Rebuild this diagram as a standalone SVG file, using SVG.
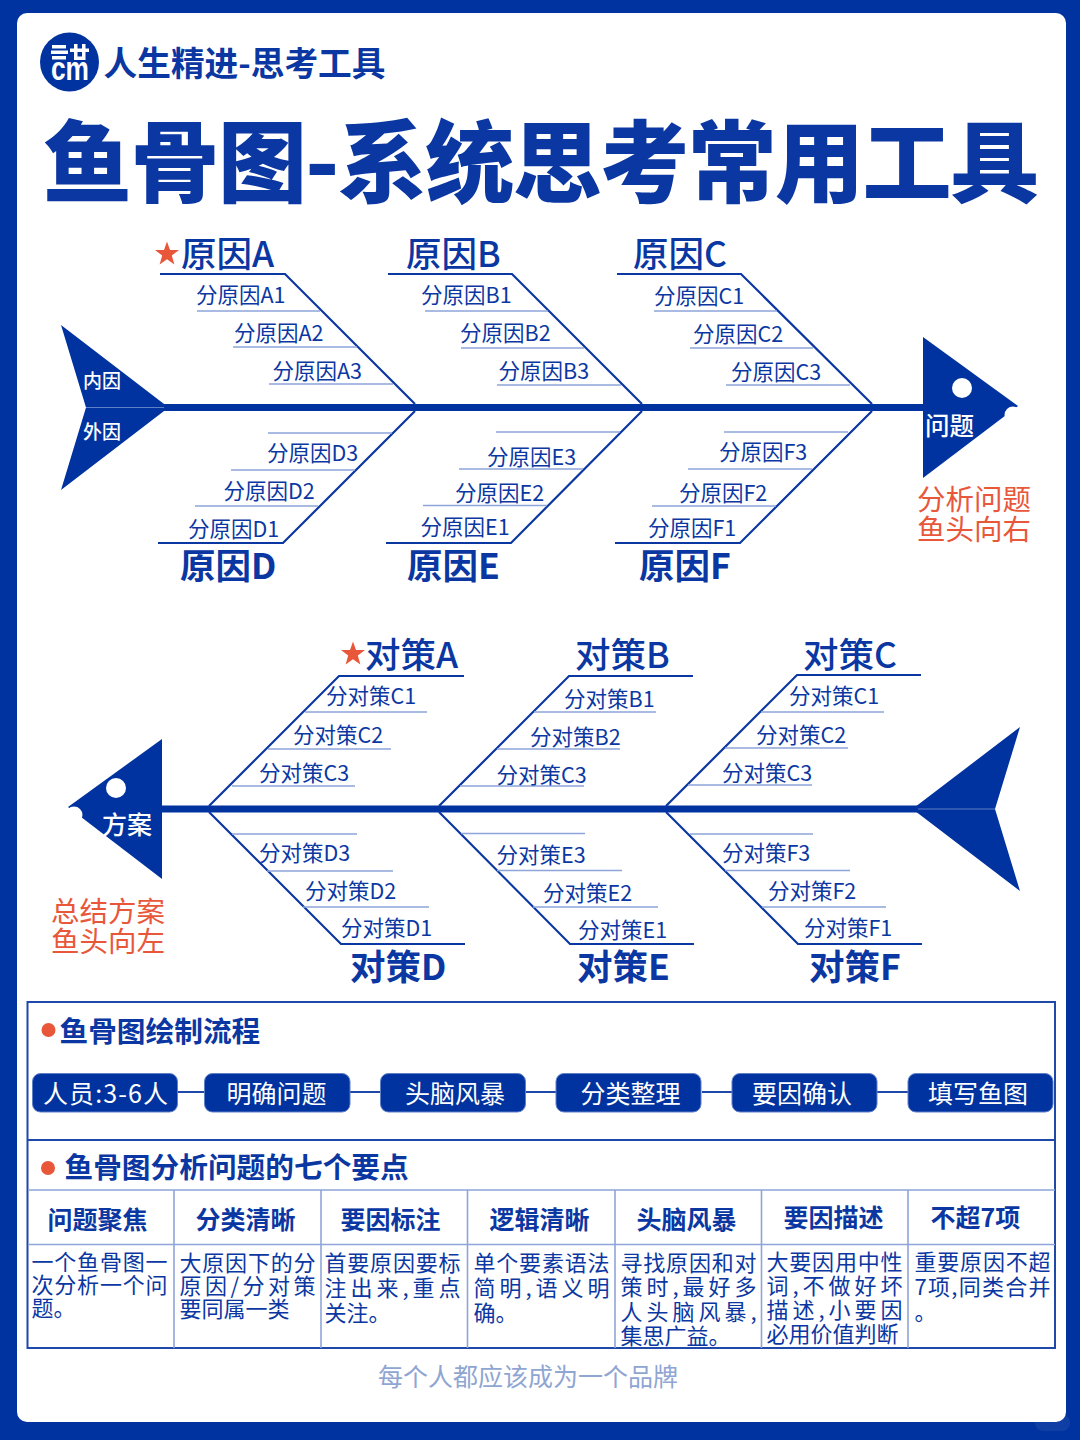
<svg xmlns="http://www.w3.org/2000/svg" width="1080" height="1440" viewBox="0 0 1080 1440">
<style>
text{font-family:"Noto Sans CJK SC","Noto Sans",sans-serif;fill:#0b37a2}
.big{font-size:35.500px;font-weight:500}
.bigb{font-size:35.500px;font-weight:700}
.sub{font-size:21.500px;font-weight:400}
.w{fill:#fff}
.red{fill:#e8573a;font-size:28.500px;font-weight:400}
.h2{font-size:28.700px;font-weight:700}
.pill{fill:#fff;font-size:25px;font-weight:400}
.th{font-size:25px;font-weight:700}
.td{font-size:22px;font-weight:400}
.bone{stroke:#0b37a2;stroke-width:2.2;fill:none}
.rib{stroke:#8fa5da;stroke-width:1.6;fill:none}
.spine{stroke:#0033a0;stroke-width:7;fill:none}
.fill{fill:#0033a0}
.seam{stroke:#5f7fc6;stroke-width:1}
.box{stroke:#1f49a8;stroke-width:2;fill:none}
.grid{stroke:#8fa5da;stroke-width:1.6;fill:none}
.dot{fill:#e8573a}
.pbox{fill:#0033a0;stroke:#5f7fc6;stroke-width:1}
</style>
<defs><polygon id="star" points="0,-12.500 3,-4 12,-4 4.800,1.600 7.400,10.500 0,5.200 -7.400,10.500 -4.800,1.600 -12,-4 -3,-4" fill="#e8573a"/></defs>
<rect width="1080" height="1440" fill="#0033a0"/>
<rect x="17" y="13" width="1049" height="1409" rx="10" fill="#fff"/>
<rect x="1035" y="1415" width="35" height="16" rx="8" fill="#fff" opacity=".06"/>

<g id="logo">
<circle cx="69.500" cy="62" r="29.500" class="fill"/>
<g fill="#fff">
<rect x="52" y="45" width="14" height="3.500"/><rect x="51" y="50.500" width="17" height="3.500"/><rect x="52" y="56" width="14" height="3.500"/>
<rect x="70" y="48.500" width="19" height="3.500"/><rect x="74" y="44" width="3.500" height="16"/><rect x="82" y="44" width="3.500" height="16"/><rect x="74" y="56.500" width="11" height="3.500"/>
</g>
<text x="51" y="80" font-size="33" font-weight="700" textLength="38" lengthAdjust="spacingAndGlyphs" class="w" style="font-family:'Liberation Sans',sans-serif">cm</text>
</g>
<text id="brand" x="103.500" y="76" font-size="33.700" font-weight="700">人生精进-思考工具</text>
<text id="title" x="43" y="195" font-size="89" font-weight="900" textLength="996" lengthAdjust="spacing">鱼骨图-系统思考常用工具</text>

<g id="connectors">
<path class="spine" d="M164 407.500H925"/>
<path class="spine" d="M162 809H920"/>
<path class="bone" d="M160 274H285L415 404M388 274H512L642 404M617 274H741L872 404"/>
<path class="bone" d="M415 411L283 543H158M642 411L511 543H386M872 411L740 543H615"/>
<path class="bone" d="M209 806L339 676H464M439 806L569 676H693M666 806L797 675H921"/>
<path class="bone" d="M209 812L341 944H465M439 812L570 944H694M666 812L798 944H922"/>
<path class="rib" d="M197 311H320M233 347H357M269 384H393M425 311H548M461 348H584M497 385H621M654 311H777M690 348H813M726 385H850"/>
<path class="rib" d="M268 433H392M231 470H355M195 506H318M496 432H620M459 469H583M423 505.500H547M724 432H848M688 469H812M652 506H776"/>
<path class="rib" d="M305 712H427M268 749H391M232 786H355M534 712H656M497 749H620M460 786H584M761 712H884M725 748H848M688 785H812"/>
<path class="rib" d="M232 834H357M267 871H393M303 907H429M461 833.500H585M497 870.500H622M533 907H658M690 834H813M725 870.500H850M762 907H886"/>
</g>

<g id="fish1-tail"><polygon class="fill" points="61,325 168.600,407.500 61,490 86,407.500"/><line class="seam" x1="86" y1="407.500" x2="164" y2="407.500"/>
<text x="83" y="388" font-size="19" class="w" font-weight="500">内因</text><text x="83" y="439" font-size="19" class="w" font-weight="500">外因</text></g>
<g id="fish1-head"><polygon class="fill" points="923,337 1018,406 923,478"/><circle cx="962" cy="388" r="10" fill="#fff"/><circle cx="1013" cy="415" r="8.500" fill="#fff"/>
<text x="925" y="435" font-size="24.500" class="w" font-weight="500">问题</text>
<text x="917" y="510" class="red">分析问题</text><text x="917" y="540" class="red">鱼头向右</text></g>

<g id="cause-A"><use href="#star" x="167" y="254"/><text x="181" y="267" class="big">原因A</text><text x="196" y="303" class="sub">分原因A1</text><text x="234" y="341" class="sub">分原因A2</text><text x="272.500" y="379" class="sub">分原因A3</text></g>
<g id="cause-B"><text x="406" y="267" class="big">原因B</text><text x="421" y="303" class="sub">分原因B1</text><text x="460" y="341" class="sub">分原因B2</text><text x="498.500" y="379" class="sub">分原因B3</text></g>
<g id="cause-C"><text x="633" y="267" class="big">原因C</text><text x="654" y="304" class="sub">分原因C1</text><text x="693" y="342" class="sub">分原因C2</text><text x="731" y="380" class="sub">分原因C3</text></g>
<g id="cause-D"><text x="267" y="461" class="sub">分原因D3</text><text x="223.500" y="499" class="sub">分原因D2</text><text x="188" y="537" class="sub">分原因D1</text><text x="180" y="579" class="bigb">原因D</text></g>
<g id="cause-E"><text x="487" y="465" class="sub">分原因E3</text><text x="455" y="501" class="sub">分原因E2</text><text x="420.500" y="535" class="sub">分原因E1</text><text x="407" y="579" class="bigb">原因E</text></g>
<g id="cause-F"><text x="719" y="460" class="sub">分原因F3</text><text x="679" y="501" class="sub">分原因F2</text><text x="648" y="536" class="sub">分原因F1</text><text x="639" y="579" class="bigb">原因F</text></g>

<g id="fish2-head"><polygon class="fill" points="162,739 68,807 162,879"/><circle cx="116" cy="788" r="10" fill="#fff"/><circle cx="74" cy="815" r="8.500" fill="#fff"/>
<text x="102" y="834" font-size="25" class="w" font-weight="500">方案</text>
<text x="51" y="922" class="red">总结方案</text><text x="51" y="952" class="red">鱼头向左</text></g>
<g id="fish2-tail"><polygon class="fill" points="1020,727 912.400,809 1020,891 995,809"/><line class="seam" x1="918" y1="809" x2="995" y2="809"/></g>

<g id="measure-A"><use href="#star" x="353" y="654"/><text x="365" y="668" class="big">对策A</text><text x="326" y="704" class="sub">分对策C1</text><text x="293" y="743" class="sub">分对策C2</text><text x="259" y="781" class="sub">分对策C3</text></g>
<g id="measure-B"><text x="575" y="668" class="big">对策B</text><text x="564" y="707" class="sub">分对策B1</text><text x="530" y="745" class="sub">分对策B2</text><text x="496.500" y="783" class="sub">分对策C3</text></g>
<g id="measure-C"><text x="803" y="668" class="big">对策C</text><text x="789" y="704" class="sub">分对策C1</text><text x="756" y="743" class="sub">分对策C2</text><text x="722" y="781" class="sub">分对策C3</text></g>
<g id="measure-D"><text x="259" y="861" class="sub">分对策D3</text><text x="305" y="899" class="sub">分对策D2</text><text x="341" y="936" class="sub">分对策D1</text><text x="350" y="980" class="bigb">对策D</text></g>
<g id="measure-E"><text x="496.500" y="863" class="sub">分对策E3</text><text x="543" y="901" class="sub">分对策E2</text><text x="578" y="938" class="sub">分对策E1</text><text x="577" y="980" class="bigb">对策E</text></g>
<g id="measure-F"><text x="722" y="861" class="sub">分对策F3</text><text x="768" y="899" class="sub">分对策F2</text><text x="804" y="936" class="sub">分对策F1</text><text x="809" y="980" class="bigb">对策F</text></g>

<g id="panel">
<rect class="box" x="27.500" y="1002" width="1027.500" height="346"/>
<line class="box" x1="27.500" y1="1140" x2="1055" y2="1140"/>
<path class="grid" d="M28 1190H1055M28 1244.500H1055M174 1190V1348M321 1190V1348M467.500 1190V1348M615 1190V1348M761.500 1190V1348M908 1190V1348"/>
</g>

<g id="flow">
<circle class="dot" cx="48.500" cy="1030" r="7"/><text x="59.500" y="1042" class="h2">鱼骨图绘制流程</text>
<path d="M178 1092H205M350 1092H380M526 1092H556M702 1092H732M877 1092H908" stroke="#1f49a8" stroke-width="2" fill="none"/>
<g id="step1"><rect class="pbox" x="32.500" y="1073.500" width="145" height="38.500" rx="8"/><text x="43" y="1103" class="pill" textLength="125">人员:3-6人</text></g>
<g id="step2"><rect class="pbox" x="204.500" y="1073.500" width="145.500" height="38.500" rx="8"/><text x="226.500" y="1103" class="pill">明确问题</text></g>
<g id="step3"><rect class="pbox" x="380.500" y="1073.500" width="145" height="38.500" rx="8"/><text x="405" y="1103" class="pill">头脑风暴</text></g>
<g id="step4"><rect class="pbox" x="556" y="1073.500" width="145" height="38.500" rx="8"/><text x="580.500" y="1103" class="pill">分类整理</text></g>
<g id="step5"><rect class="pbox" x="732" y="1073.500" width="145" height="38.500" rx="8"/><text x="752" y="1103" class="pill">要因确认</text></g>
<g id="step6"><rect class="pbox" x="908" y="1073.500" width="145" height="38.500" rx="8"/><text x="928" y="1103" class="pill">填写鱼图</text></g>
</g>

<g id="points">
<circle class="dot" cx="48" cy="1168" r="7"/><text x="64.500" y="1178" class="h2">鱼骨图分析问题的七个要点</text>
<g id="col1"><text x="47.500" y="1229" class="th">问题聚焦</text><text x="31.500" y="1270" class="td" textLength="136">一个鱼骨图一</text><text x="31.500" y="1293" class="td" textLength="136">次分析一个问</text><text x="31.500" y="1316" class="td">题。</text></g>
<g id="col2"><text x="195.500" y="1229" class="th">分类清晰</text><text x="179.500" y="1271" class="td" textLength="136">大原因下的分</text><text x="179.500" y="1294" class="td" textLength="136">原因/分对策</text><text x="179.500" y="1317" class="td">要同属一类</text></g>
<g id="col3"><text x="340.500" y="1229" class="th">要因标注</text><text x="324.500" y="1271" class="td" textLength="136">首要原因要标</text><text x="324.500" y="1296" class="td" textLength="136">注出来,重点</text><text x="324.500" y="1321" class="td">关注。</text></g>
<g id="col4"><text x="489.500" y="1229" class="th">逻辑清晰</text><text x="473.500" y="1271" class="td" textLength="136">单个要素语法</text><text x="473.500" y="1296" class="td" textLength="136">简明,语义明</text><text x="473.500" y="1321" class="td">确。</text></g>
<g id="col5"><text x="636.500" y="1229" class="th">头脑风暴</text><text x="620.500" y="1271" class="td" textLength="136">寻找原因和对</text><text x="620.500" y="1295" class="td" textLength="136">策时,最好多</text><text x="620.500" y="1320" class="td" textLength="136">人头脑风暴,</text><text x="620.500" y="1344" class="td">集思广益。</text></g>
<g id="col6"><text x="783.500" y="1227" class="th">要因描述</text><text x="766.500" y="1270" class="td" textLength="136">大要因用中性</text><text x="766.500" y="1294" class="td" textLength="136">词,不做好坏</text><text x="766.500" y="1318" class="td" textLength="136">描述,小要因</text><text x="766.500" y="1342" class="td">必用价值判断</text></g>
<g id="col7"><text x="930.500" y="1227" class="th">不超7项</text><text x="914.500" y="1270" class="td" textLength="136">重要原因不超</text><text x="914.500" y="1295" class="td" textLength="136">7项,同类合并</text><text x="914.500" y="1320" class="td">。</text></g>
</g>
<text id="footer" x="378" y="1386" font-size="25" style="fill:#8fa5d2">每个人都应该成为一个品牌</text>
</svg>
